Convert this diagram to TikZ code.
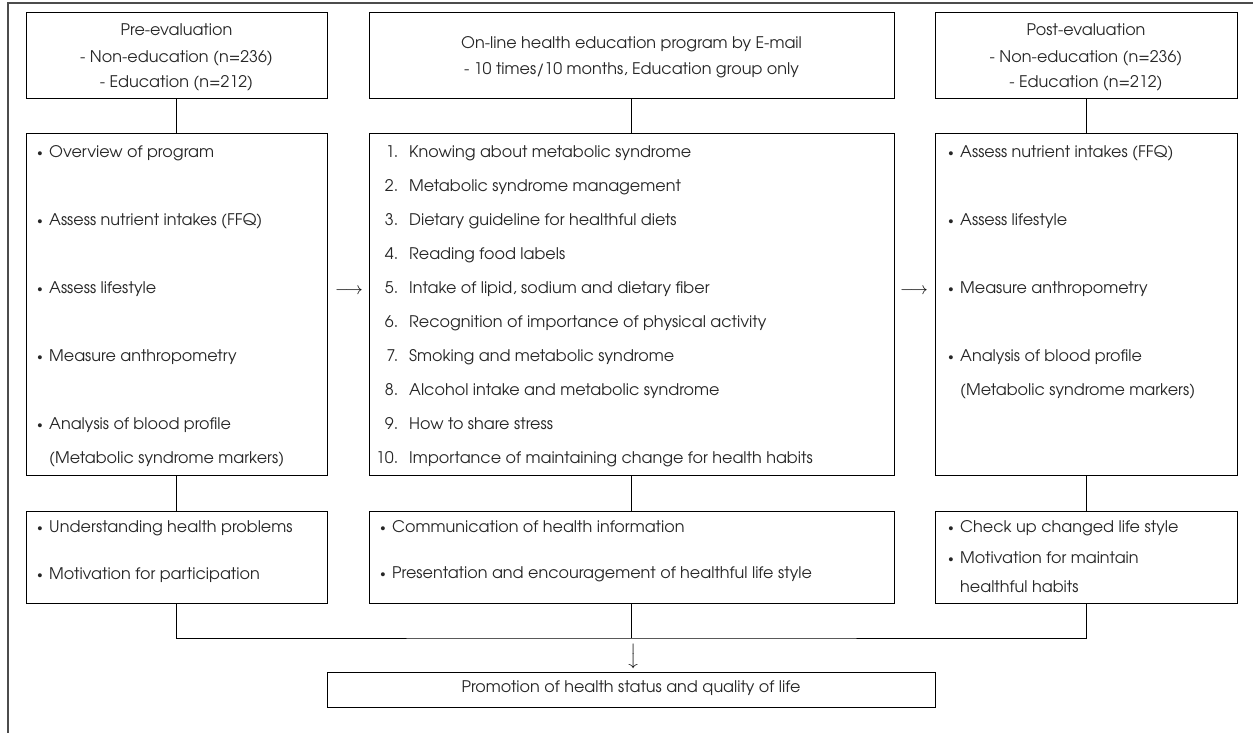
\documentclass[tikz,border=0pt]{standalone}
\usepackage{fontspec}
\IfFontExistsTF{TeX Gyre Adventor}{\setmainfont{TeX Gyre Adventor}}{\setmainfont{Poppins}}
\newcommand{\bul}{\makebox[12pt][l]{\raisebox{1.2pt}{\fontsize{11}{11}\selectfont•}}}
\newcommand{\num}[1]{\makebox[29pt][r]{#1}\hspace{11pt}}
\begin{document}
\begin{tikzpicture}[x=1pt,y=-1pt,
  box/.style={draw, line width=1pt, rectangle, inner sep=0pt},
  txt/.style={inner sep=0pt, font=\fontsize{16}{19}\selectfont, text=black!85},
  ltxt/.style={txt, anchor=mid west},
  ctxt/.style={txt, anchor=mid},
  link/.style={draw, line width=1pt},
  arr/.style={inner sep=0pt, font=\fontsize{16}{18}\selectfont}]
\useasboundingbox (0,0) rectangle (1253,733);
\draw[gray!60!black, line width=1.2pt] (8,733) -- (8,3) -- (1253,3);

% boxes
\node[box, minimum width=301pt, minimum height=86pt] (pre) at (176.5,56) {};
\node[box, minimum width=525pt, minimum height=86pt] (prog) at (631.5,56) {};
\node[box, minimum width=302pt, minimum height=86pt] (post) at (1086,56) {};
\node[box, minimum width=301pt, minimum height=341pt] (preL) at (176.5,304.5) {};
\node[box, minimum width=525pt, minimum height=341pt] (progL) at (631.5,304.5) {};
\node[box, minimum width=302pt, minimum height=341pt] (postL) at (1086,304.5) {};
\node[box, minimum width=301pt, minimum height=92pt] (preB) at (176.5,557) {};
\node[box, minimum width=525pt, minimum height=92pt] (progB) at (631.5,557) {};
\node[box, minimum width=302pt, minimum height=92pt] (postB) at (1086,557) {};
\node[box, minimum width=608pt, minimum height=35pt] (final) at (631,690) {};

% connectors
\draw[link] (pre.south) -- (preL.north);
\draw[link] (prog.south) -- (progL.north);
\draw[link] (post.south) -- (postL.north);
\draw[link] (preL.south) -- (preB.north);
\draw[link] (progL.south) -- (progB.north);
\draw[link] (postL.south) -- (postB.north);
\coordinate (join) at (631.5,638);
\draw[link] (preB.south) |- (join) -| (postB.south);
\draw[link] (progB.south) -- (join);

% arrows as text
\node[arr] (a1) at (349,291) {$\longrightarrow$};
\node[arr] (a2) at (914,291) {$\longrightarrow$};
\node[arr, rotate=-90] (a3) at (632,656) {$\longrightarrow$};

% top texts
\node[ctxt] (t1) at (176.5,33) {Pre-evaluation};
\node[ctxt] (t2) at (176.5,60) {- Non-education (n=236)};
\node[ctxt] (t3) at (176.5,85) {- Education (n=212)};
\node[ctxt] (t4) at (631.5,46) {On-line health education program by E-mail};
\node[ctxt] (t5) at (631.5,72) {- 10 times/10 months, Education group only};
\node[ctxt] (t6) at (1086,33) {Post-evaluation};
\node[ctxt] (t7) at (1086,60) {- Non-education (n=236)};
\node[ctxt] (t8) at (1086,85) {- Education (n=212)};

% left list
\node[ltxt] (l1) at (37,155) {\bul Overview of program};
\node[ltxt] (l2) at (37,223) {\bul Assess nutrient intakes (FFQ)};
\node[ltxt] (l3) at (37,291) {\bul Assess lifestyle};
\node[ltxt] (l4) at (37,359) {\bul Measure anthropometry};
\node[ltxt] (l5) at (37,427) {\bul Analysis of blood profile};
\node[ltxt] (l6) at (37,461) {\hspace{12pt}(Metabolic syndrome markers)};

% middle list
\node[ltxt] (m1) at (369,155) {\num{1.}Knowing about metabolic syndrome};
\node[ltxt] (m2) at (369,189) {\num{2.}Metabolic syndrome management};
\node[ltxt] (m3) at (369,223) {\num{3.}Dietary guideline for healthful diets};
\node[ltxt] (m4) at (369,257) {\num{4.}Reading food labels};
\node[ltxt] (m5) at (369,291) {\num{5.}Intake of lipid, sodium and dietary fiber};
\node[ltxt] (m6) at (369,325) {\num{6.}Recognition of importance of physical activity};
\node[ltxt] (m7) at (369,359) {\num{7.}Smoking and metabolic syndrome};
\node[ltxt] (m8) at (369,393) {\num{8.}Alcohol intake and metabolic syndrome};
\node[ltxt] (m9) at (369,427) {\num{9.}How to share stress};
\node[ltxt] (m10) at (369,461) {\num{10.}Importance of maintaining change for health habits};

% right list
\node[ltxt] (r1) at (948,155) {\bul Assess nutrient intakes (FFQ)};
\node[ltxt] (r2) at (948,223) {\bul Assess lifestyle};
\node[ltxt] (r3) at (948,291) {\bul Measure anthropometry};
\node[ltxt] (r4) at (948,359) {\bul Analysis of blood profile};
\node[ltxt] (r5) at (948,393) {\hspace{12pt}(Metabolic syndrome markers)};

% bottom boxes text
\node[ltxt] (b1) at (37,530) {\bul Understanding health problems};
\node[ltxt] (b2) at (37,577) {\bul Motivation for participation};
\node[ltxt] (b3) at (380,530) {\bul Communication of health information};
\node[ltxt] (b4) at (380,576) {\bul Presentation and encouragement of healthful life style};
\node[ltxt] (b5) at (948,530) {\bul Check up changed life style};
\node[ltxt] (b6) at (948,561) {\bul Motivation for maintain};
\node[ltxt] (b7) at (948,590) {\hspace{12pt}healthful habits};

% final
\node[ctxt] (f1) at (631,690) {Promotion of health status and quality of life};
\end{tikzpicture}
\end{document}
